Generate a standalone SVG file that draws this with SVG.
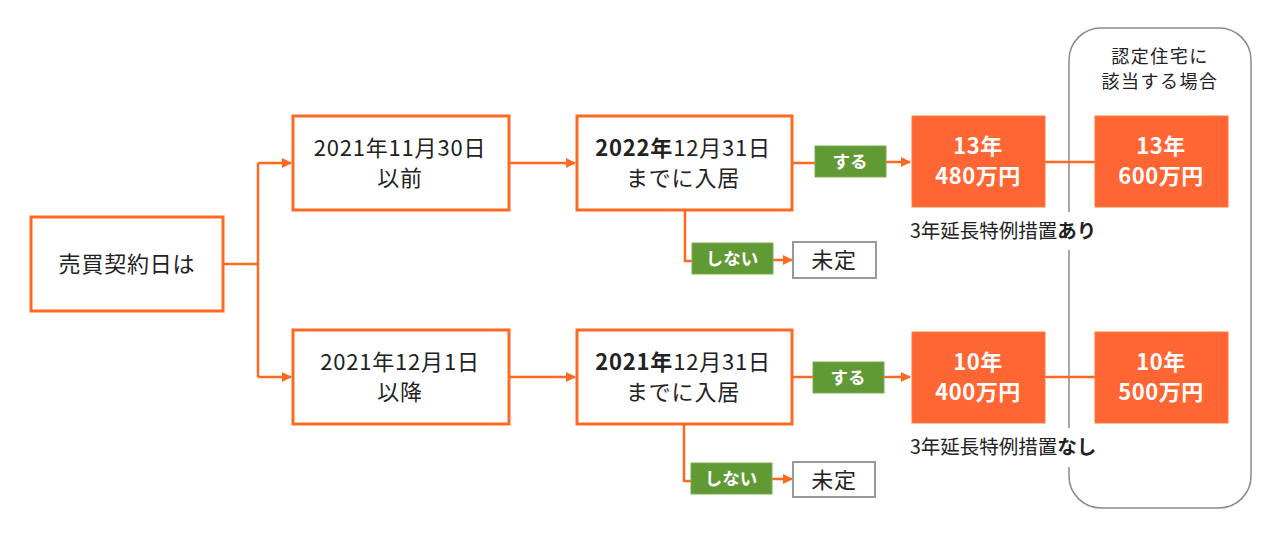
<svg xmlns="http://www.w3.org/2000/svg" width="1280" height="535" viewBox="0 0 1280 535">
<defs>
<marker id="ah" viewBox="0 0 10 10" refX="9" refY="5" markerWidth="10" markerHeight="10" markerUnits="userSpaceOnUse" orient="auto">
<path d="M0,0 L10,5 L0,10 Z" fill="#FF6A22"/>
</marker>
<style>
text{font-family:"Noto Sans CJK JP","Noto Sans",sans-serif;text-anchor:middle}
.box{fill:#fff;stroke:#FF6A22;stroke-width:3}
.res{fill:#FF6633;stroke:#FF7A3D;stroke-width:1}
.lbl{fill:#619A34;stroke:#7AAE50;stroke-width:1}
.und{fill:#fff;stroke:#999;stroke-width:2}
.t{font-size:22px;fill:#222;letter-spacing:0.8px}
.w{font-size:22px;fill:#fff;font-weight:bold;letter-spacing:0.5px}
.g{font-size:17.5px;fill:#fff;font-weight:bold}
.n{font-size:19.5px;fill:#222}
.h{font-size:18px;fill:#222;letter-spacing:1.5px}
.c{fill:none;stroke:#FF6A22;stroke-width:2.5}
</style>
</defs>
<rect width="1280" height="535" fill="#fff"/>
<g id="group-frame">
<rect x="1069" y="28" width="182" height="480" rx="32" fill="none" stroke="#8a8a8a" stroke-width="1.5"/>
<text class="h" x="1160" y="63">認定住宅に</text>
<text class="h" x="1160" y="88">該当する場合</text>
</g>
<g id="connectors">
<path class="c" d="M223,264 H258 M258,163 V377"/>
<path class="c" d="M258,163 H291" marker-end="url(#ah)"/>
<path class="c" d="M258,377 H291" marker-end="url(#ah)"/>
<path class="c" d="M509,163 H575" marker-end="url(#ah)"/>
<path class="c" d="M509,377 H575" marker-end="url(#ah)"/>
<path class="c" d="M792,163 H815"/>
<path class="c" d="M886,162 H910" marker-end="url(#ah)"/>
<path class="c" d="M792,377 H813"/>
<path class="c" d="M884,377 H910" marker-end="url(#ah)"/>
<path class="c" d="M685,210 V261 H692"/>
<path class="c" d="M773,260 H792" marker-end="url(#ah)"/>
<path class="c" d="M684,424 V481 H691"/>
<path class="c" d="M772,479 H792" marker-end="url(#ah)"/>
<path class="c" d="M1045,162 H1095"/>
<path class="c" d="M1045,377 H1095"/>
</g>
<g id="start">
<rect class="box" x="31" y="217" width="192" height="94"/>
<text class="t" x="127" y="272">売買契約日は</text>
</g>
<g id="before">
<rect class="box" x="293" y="116" width="216" height="94"/>
<text class="t" x="400" y="156">2021年11月30日</text>
<text class="t" x="400" y="186">以前</text>
</g>
<g id="after">
<rect class="box" x="293" y="330" width="216" height="94"/>
<text class="t" x="400" y="370">2021年12月1日</text>
<text class="t" x="400" y="400">以降</text>
</g>
<g id="move-2022">
<rect class="box" x="577" y="116" width="215" height="94"/>
<text class="t" x="683" y="156"><tspan font-weight="bold">2022年</tspan>12月31日</text>
<text class="t" x="683" y="186">までに入居</text>
</g>
<g id="move-2021">
<rect class="box" x="577" y="330" width="215" height="94"/>
<text class="t" x="683" y="370"><tspan font-weight="bold">2021年</tspan>12月31日</text>
<text class="t" x="683" y="400">までに入居</text>
</g>
<g id="yes-1">
<rect class="lbl" x="815" y="146" width="71" height="31"/>
<text class="g" x="850" y="168">する</text>
</g>
<g id="yes-2">
<rect class="lbl" x="813" y="362" width="71" height="31"/>
<text class="g" x="848" y="384">する</text>
</g>
<g id="no-1">
<rect class="lbl" x="692" y="243" width="81" height="31"/>
<text class="g" x="732" y="265">しない</text>
</g>
<g id="no-2">
<rect class="lbl" x="691" y="463" width="81" height="31"/>
<text class="g" x="731" y="485">しない</text>
</g>
<g id="undecided-1">
<rect class="und" x="793" y="242" width="83" height="36"/>
<text class="t" x="834" y="268">未定</text>
</g>
<g id="undecided-2">
<rect class="und" x="793" y="462" width="82" height="35"/>
<text class="t" x="834" y="488">未定</text>
</g>
<g id="r-13-480">
<rect class="res" x="912" y="116" width="133" height="91"/>
<text class="w" x="978" y="154">13年</text>
<text class="w" x="978" y="184">480万円</text>
</g>
<g id="r-13-600">
<rect class="res" x="1095" y="116" width="133" height="91"/>
<text class="w" x="1161" y="154">13年</text>
<text class="w" x="1161" y="184">600万円</text>
</g>
<g id="r-10-400">
<rect class="res" x="912" y="332" width="133" height="91"/>
<text class="w" x="978" y="370">10年</text>
<text class="w" x="978" y="400">400万円</text>
</g>
<g id="r-10-500">
<rect class="res" x="1095" y="332" width="133" height="91"/>
<text class="w" x="1161" y="370">10年</text>
<text class="w" x="1161" y="400">500万円</text>
</g>
<g id="note-1">
<rect x="1062" y="212" width="16" height="38" fill="#fff"/>
<text class="n" x="910" y="238" style="text-anchor:start">3年延長特例措置<tspan font-weight="bold">あり</tspan></text>
</g>
<g id="note-2">
<rect x="1062" y="428" width="16" height="39" fill="#fff"/>
<text class="n" x="910" y="454" style="text-anchor:start">3年延長特例措置<tspan font-weight="bold">なし</tspan></text>
</g>
</svg>
